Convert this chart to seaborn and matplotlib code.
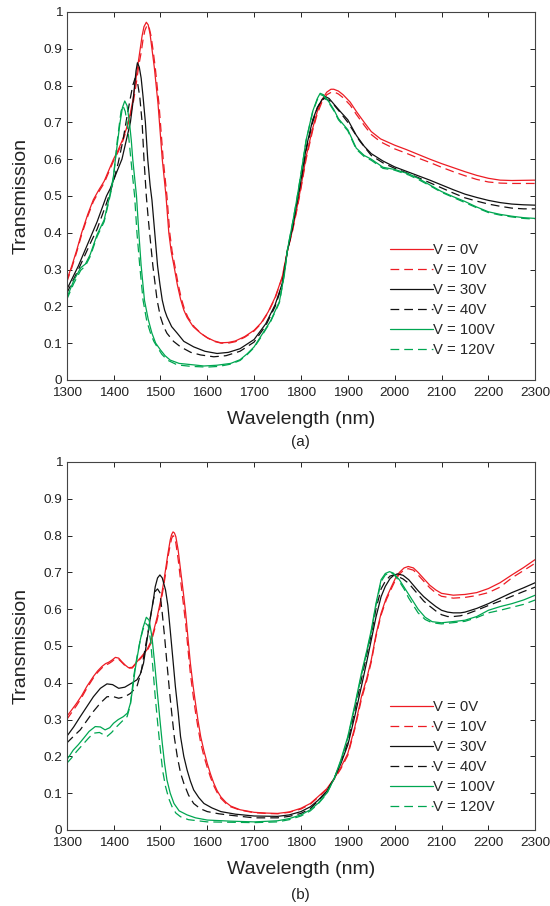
import pandas as pd
import matplotlib
matplotlib.use('Agg')
import matplotlib.pyplot as plt
import seaborn as sns

# ---- panel (a) ----
a_wl_0V = [1300, 1311, 1322, 1332, 1345, 1357, 1368, 1380, 1390, 1400, 1410, 1420, 1428, 1436, 1442, 1448, 1453,
           1457, 1461, 1465, 1470, 1474, 1478, 1482, 1487, 1491, 1495, 1498, 1504, 1512, 1518, 1523, 1529, 1536,
           1543, 1550, 1557, 1570, 1586, 1600, 1615, 1629, 1645, 1660, 1680, 1700, 1715, 1730, 1745, 1760, 1771,
           1782, 1791, 1800, 1811, 1825, 1835, 1845, 1855, 1864, 1870, 1880, 1890, 1905, 1918, 1935, 1950, 1970,
           2000, 2025, 2050, 2075, 2100, 2125, 2150, 2175, 2200, 2225, 2250, 2300]
a_T_0V = [0.27, 0.31, 0.355, 0.40, 0.45, 0.49, 0.515, 0.54, 0.57, 0.60, 0.625, 0.655, 0.685, 0.725, 0.765, 0.82,
          0.865, 0.90, 0.935, 0.96, 0.972, 0.965, 0.94, 0.90, 0.85, 0.80, 0.75, 0.70, 0.60, 0.50, 0.40, 0.35, 0.31,
          0.26, 0.22, 0.19, 0.17, 0.145, 0.127, 0.115, 0.106, 0.101, 0.102, 0.106, 0.118, 0.135, 0.155, 0.185,
          0.225, 0.28, 0.35, 0.408, 0.465, 0.525, 0.607, 0.684, 0.73, 0.762, 0.782, 0.79, 0.79, 0.785, 0.775,
          0.755, 0.73, 0.70, 0.675, 0.655, 0.638, 0.626, 0.613, 0.60, 0.588, 0.577, 0.566, 0.556, 0.548, 0.543,
          0.542, 0.543]

a_wl_10V = [1300, 1311, 1322, 1332, 1345, 1357, 1368, 1380, 1390, 1400, 1410, 1420, 1428, 1436, 1443, 1449, 1454,
            1459, 1463, 1467, 1472, 1476, 1480, 1484, 1489, 1493, 1497, 1500, 1506, 1514, 1520, 1525, 1531, 1538,
            1545, 1552, 1559, 1572, 1588, 1602, 1617, 1630, 1645, 1660, 1680, 1700, 1715, 1730, 1745, 1760, 1771,
            1782, 1791, 1800, 1811, 1825, 1835, 1845, 1855, 1865, 1872, 1880, 1890, 1905, 1918, 1935, 1950, 1970,
            2000, 2025, 2050, 2075, 2100, 2125, 2150, 2175, 2200, 2225, 2250, 2300]
a_T_10V = [0.265, 0.305, 0.35, 0.395, 0.445, 0.485, 0.51, 0.535, 0.565, 0.595, 0.62, 0.65, 0.68, 0.72, 0.76, 0.81,
           0.855, 0.89, 0.925, 0.95, 0.965, 0.958, 0.935, 0.90, 0.85, 0.80, 0.75, 0.70, 0.60, 0.50, 0.40, 0.35,
           0.31, 0.26, 0.22, 0.19, 0.17, 0.145, 0.125, 0.113, 0.104, 0.10, 0.10, 0.104, 0.116, 0.133, 0.153, 0.183,
           0.223, 0.278, 0.35, 0.405, 0.46, 0.52, 0.60, 0.678, 0.724, 0.756, 0.775, 0.782, 0.782, 0.777, 0.767,
           0.747, 0.722, 0.692, 0.667, 0.647, 0.628, 0.616, 0.603, 0.591, 0.578, 0.566, 0.555, 0.545, 0.538, 0.535,
           0.534, 0.534]

a_wl_30V = [1300, 1325, 1350, 1365, 1375, 1385, 1393, 1400, 1410, 1418, 1427, 1436, 1441, 1445, 1448, 1451, 1455,
            1459, 1463, 1468, 1473, 1478, 1482, 1488, 1494, 1499, 1504, 1509, 1514, 1524, 1536, 1550, 1571, 1595,
            1621, 1645, 1670, 1700, 1725, 1745, 1760, 1771, 1782, 1791, 1800, 1811, 1825, 1835, 1845, 1852, 1860,
            1870, 1885, 1900, 1918, 1935, 1950, 1975, 2000, 2025, 2050, 2075, 2100, 2125, 2150, 2175, 2200, 2225,
            2250, 2275, 2300]
a_T_30V = [0.245, 0.31, 0.385, 0.43, 0.465, 0.50, 0.52, 0.543, 0.575, 0.60, 0.65, 0.70, 0.75, 0.80, 0.84, 0.862,
           0.85, 0.82, 0.77, 0.70, 0.60, 0.53, 0.489, 0.40, 0.31, 0.26, 0.217, 0.19, 0.172, 0.145, 0.127, 0.105,
           0.09, 0.078, 0.072, 0.075, 0.085, 0.11, 0.153, 0.205, 0.262, 0.35, 0.415, 0.48, 0.543, 0.63, 0.707,
           0.74, 0.762, 0.77, 0.765, 0.75, 0.728, 0.707, 0.665, 0.635, 0.615, 0.595, 0.579, 0.567, 0.555, 0.543,
           0.53, 0.517, 0.505, 0.496, 0.488, 0.482, 0.478, 0.476, 0.475]

a_wl_40V = [1300, 1325, 1350, 1365, 1375, 1385, 1393, 1400, 1410, 1420, 1428, 1435, 1441, 1446, 1451, 1456, 1461,
            1465, 1470, 1474, 1477, 1484, 1493, 1500, 1507, 1514, 1528, 1543, 1565, 1586, 1614, 1640, 1670, 1700,
            1725, 1745, 1760, 1771, 1782, 1791, 1800, 1811, 1825, 1835, 1843, 1850, 1860, 1870, 1885, 1900, 1925,
            1950, 1975, 2000, 2025, 2050, 2075, 2100, 2125, 2150, 2175, 2200, 2225, 2250, 2275, 2300]
a_T_40V = [0.235, 0.30, 0.37, 0.41, 0.445, 0.48, 0.51, 0.54, 0.59, 0.65, 0.71, 0.76, 0.80, 0.82, 0.81, 0.77,
           0.70, 0.60, 0.50, 0.44, 0.40, 0.31, 0.217, 0.172, 0.145, 0.127, 0.105, 0.09, 0.075, 0.068, 0.063, 0.066,
           0.078, 0.103, 0.148, 0.20, 0.258, 0.35, 0.415, 0.48, 0.54, 0.625, 0.70, 0.74, 0.758, 0.765, 0.76, 0.748,
           0.725, 0.70, 0.65, 0.61, 0.59, 0.575, 0.563, 0.55, 0.536, 0.522, 0.508, 0.495, 0.486, 0.478, 0.472,
           0.467, 0.465, 0.465]

a_wl_100V = [1300, 1315, 1330, 1340, 1350, 1365, 1380, 1390, 1395, 1400, 1404, 1409, 1414, 1419, 1424, 1429, 1434,
             1438, 1441, 1445, 1449, 1454, 1459, 1466, 1474, 1482, 1490, 1500, 1510, 1521, 1540, 1571, 1593, 1620,
             1650, 1670, 1686, 1700, 1714, 1735, 1754, 1765, 1771, 1782, 1791, 1800, 1811, 1825, 1835, 1841, 1848,
             1860, 1870, 1880, 1890, 1900, 1918, 1935, 1950, 1975, 2000, 2030, 2050, 2075, 2100, 2125, 2150, 2175,
             2200, 2225, 2250, 2275, 2300]
a_T_100V = [0.222, 0.27, 0.305, 0.315, 0.34, 0.395, 0.435, 0.49, 0.52, 0.555, 0.60, 0.65, 0.70, 0.74, 0.758, 0.745,
            0.70, 0.65, 0.60, 0.55, 0.50, 0.40, 0.31, 0.217, 0.165, 0.127, 0.10, 0.082, 0.066, 0.054, 0.045, 0.041,
            0.038, 0.04, 0.045, 0.055, 0.072, 0.09, 0.118, 0.16, 0.213, 0.29, 0.353, 0.426, 0.49, 0.56, 0.652,
            0.73, 0.765, 0.779, 0.775, 0.755, 0.735, 0.71, 0.695, 0.68, 0.63, 0.61, 0.60, 0.578, 0.572, 0.56,
            0.548, 0.53, 0.512, 0.498, 0.485, 0.47, 0.457, 0.45, 0.445, 0.441, 0.439]

a_wl_120V = [1300, 1315, 1330, 1340, 1350, 1365, 1380, 1390, 1396, 1400, 1404, 1408, 1412, 1416, 1420, 1425, 1430,
             1434, 1437, 1441, 1445, 1450, 1456, 1463, 1471, 1479, 1486, 1493, 1503, 1515, 1536, 1565, 1600, 1625,
             1650, 1670, 1686, 1700, 1714, 1735, 1754, 1765, 1771, 1782, 1791, 1800, 1811, 1825, 1835, 1841, 1848,
             1860, 1870, 1880, 1890, 1900, 1918, 1935, 1950, 1975, 2000, 2030, 2050, 2075, 2100, 2125, 2150, 2175,
             2200, 2225, 2250, 2275, 2300]
a_T_120V = [0.218, 0.262, 0.298, 0.31, 0.335, 0.39, 0.43, 0.485, 0.52, 0.55, 0.60, 0.65, 0.69, 0.73, 0.745, 0.73,
            0.69, 0.64, 0.60, 0.55, 0.50, 0.40, 0.31, 0.217, 0.16, 0.127, 0.105, 0.09, 0.07, 0.054, 0.041, 0.037,
            0.035, 0.037, 0.043, 0.053, 0.07, 0.088, 0.115, 0.158, 0.21, 0.29, 0.353, 0.426, 0.49, 0.56, 0.65,
            0.728, 0.762, 0.776, 0.772, 0.752, 0.732, 0.707, 0.692, 0.677, 0.627, 0.607, 0.597, 0.575, 0.57, 0.557,
            0.545, 0.528, 0.51, 0.496, 0.482, 0.468, 0.455, 0.448, 0.443, 0.439, 0.437]

# ---- panel (b) ----
b_wl_0V = [1300, 1310, 1321, 1332, 1343, 1357, 1366, 1375, 1383, 1390, 1397, 1404, 1411, 1418, 1425, 1432, 1440,
           1450, 1460, 1471, 1479, 1486, 1493, 1500, 1506, 1511, 1516, 1521, 1524, 1527, 1530, 1533, 1538, 1543,
           1549, 1554, 1559, 1564, 1570, 1575, 1580, 1586, 1593, 1600, 1607, 1614, 1621, 1629, 1640, 1650, 1670,
           1700, 1725, 1750, 1775, 1800, 1820, 1836, 1855, 1871, 1885, 1900, 1915, 1929, 1940, 1950, 1960, 1971,
           1982, 1993, 2002, 2010, 2020, 2029, 2040, 2050, 2062, 2075, 2088, 2100, 2125, 2150, 2175, 2200, 2225,
           2250, 2275, 2300]
b_T_0V = [0.308, 0.325, 0.344, 0.365, 0.39, 0.417, 0.432, 0.444, 0.452, 0.456, 0.462, 0.469, 0.467, 0.457, 0.448,
          0.441, 0.442, 0.457, 0.472, 0.489, 0.51, 0.543, 0.578, 0.62, 0.665, 0.707, 0.75, 0.788, 0.803, 0.81,
          0.807, 0.797, 0.76, 0.707, 0.645, 0.589, 0.52, 0.453, 0.39, 0.344, 0.30, 0.254, 0.215, 0.181, 0.152,
          0.127, 0.107, 0.09, 0.075, 0.065, 0.055, 0.048, 0.046, 0.045, 0.049, 0.059, 0.072, 0.09, 0.112, 0.14,
          0.17, 0.208, 0.28, 0.362, 0.41, 0.462, 0.53, 0.589, 0.63, 0.661, 0.685, 0.70, 0.712, 0.716, 0.712, 0.70,
          0.683, 0.665, 0.652, 0.643, 0.638, 0.64, 0.645, 0.656, 0.672, 0.693, 0.713, 0.735]

b_wl_10V = b_wl_0V
b_T_10V = [0.30, 0.318, 0.338, 0.36, 0.385, 0.413, 0.428, 0.44, 0.448, 0.452, 0.458, 0.466, 0.464, 0.455, 0.446,
           0.44, 0.44, 0.455, 0.469, 0.485, 0.505, 0.537, 0.57, 0.61, 0.655, 0.695, 0.74, 0.775, 0.792, 0.80,
           0.795, 0.78, 0.735, 0.68, 0.615, 0.56, 0.49, 0.425, 0.365, 0.32, 0.28, 0.237, 0.20, 0.17, 0.143, 0.12,
           0.102, 0.086, 0.072, 0.063, 0.054, 0.047, 0.045, 0.044, 0.048, 0.057, 0.07, 0.088, 0.11, 0.138, 0.166,
           0.203, 0.275, 0.355, 0.404, 0.456, 0.525, 0.584, 0.625, 0.656, 0.68, 0.695, 0.707, 0.71, 0.706, 0.693,
           0.676, 0.658, 0.644, 0.635, 0.63, 0.632, 0.637, 0.645, 0.66, 0.685, 0.705, 0.725]

b_wl_30V = [1300, 1315, 1329, 1343, 1357, 1372, 1386, 1398, 1411, 1424, 1436, 1450, 1457, 1464, 1472, 1479, 1485,
            1489, 1494, 1499, 1504, 1511, 1516, 1521, 1527, 1532, 1538, 1543, 1550, 1557, 1564, 1571, 1582, 1593,
            1610, 1629, 1660, 1700, 1750, 1775, 1800, 1820, 1836, 1855, 1871, 1885, 1900, 1915, 1929, 1940, 1950,
            1960, 1971, 1980, 1990, 1998, 2006, 2018, 2030, 2040, 2050, 2062, 2075, 2088, 2100, 2113, 2125, 2140,
            2150, 2175, 2200, 2225, 2250, 2275, 2300]
b_T_30V = [0.254, 0.28, 0.308, 0.335, 0.362, 0.385, 0.397, 0.395, 0.385, 0.388, 0.397, 0.408, 0.423, 0.453, 0.52,
           0.58, 0.625, 0.661, 0.685, 0.693, 0.685, 0.652, 0.61, 0.543, 0.46, 0.39, 0.32, 0.254, 0.20, 0.163, 0.133,
           0.109, 0.088, 0.072, 0.06, 0.05, 0.043, 0.038, 0.037, 0.041, 0.05, 0.063, 0.08, 0.105, 0.14, 0.18, 0.231,
           0.31, 0.39, 0.455, 0.516, 0.578, 0.634, 0.662, 0.683, 0.692, 0.696, 0.692, 0.68, 0.665, 0.65, 0.634,
           0.62, 0.607, 0.597, 0.592, 0.59, 0.59, 0.592, 0.602, 0.615, 0.63, 0.645, 0.658, 0.672]

b_wl_40V = [1300, 1315, 1329, 1343, 1357, 1372, 1386, 1398, 1411, 1424, 1436, 1450, 1459, 1468, 1474, 1479, 1485,
            1490, 1494, 1499, 1504, 1509, 1514, 1520, 1525, 1530, 1536, 1543, 1550, 1560, 1571, 1585, 1600, 1625,
            1650, 1700, 1750, 1775, 1800, 1820, 1836, 1855, 1871, 1885, 1900, 1915, 1929, 1940, 1950, 1960, 1971,
            1980, 1990, 1998, 2005, 2018, 2030, 2040, 2050, 2062, 2075, 2088, 2100, 2113, 2125, 2140, 2150, 2175,
            2200, 2225, 2250, 2275, 2300]
b_T_40V = [0.236, 0.255, 0.272, 0.297, 0.322, 0.345, 0.362, 0.363, 0.358, 0.362, 0.371, 0.39, 0.43, 0.498, 0.54,
           0.58, 0.625, 0.65, 0.655, 0.645, 0.589, 0.525, 0.453, 0.37, 0.308, 0.25, 0.20, 0.155, 0.127, 0.095,
           0.072, 0.058, 0.05, 0.044, 0.04, 0.033, 0.033, 0.037, 0.045, 0.058, 0.078, 0.105, 0.14, 0.185, 0.24,
           0.325, 0.41, 0.475, 0.53, 0.60, 0.655, 0.676, 0.69, 0.693, 0.69, 0.682, 0.67, 0.655, 0.64, 0.622, 0.608,
           0.595, 0.585, 0.58, 0.58, 0.582, 0.585, 0.597, 0.61, 0.622, 0.635, 0.648, 0.66]

b_wl_100V = [1300, 1314, 1325, 1336, 1348, 1361, 1372, 1382, 1392, 1400, 1410, 1421, 1430, 1436, 1441, 1446, 1452,
             1457, 1463, 1470, 1476, 1482, 1488, 1493, 1499, 1504, 1509, 1514, 1521, 1529, 1540, 1557, 1575, 1600,
             1650, 1700, 1750, 1775, 1800, 1820, 1836, 1855, 1871, 1885, 1900, 1915, 1929, 1940, 1950, 1960, 1971,
             1980, 1989, 1997, 2010, 2020, 2030, 2040, 2050, 2065, 2080, 2100, 2115, 2130, 2150, 2175, 2200, 2225,
             2250, 2275, 2300]
b_T_100V = [0.19, 0.217, 0.232, 0.249, 0.268, 0.281, 0.28, 0.272, 0.278, 0.29, 0.30, 0.308, 0.318, 0.344, 0.385,
            0.435, 0.48, 0.516, 0.55, 0.578, 0.57, 0.525, 0.45, 0.38, 0.30, 0.236, 0.18, 0.136, 0.10, 0.072, 0.052,
            0.041, 0.033, 0.027, 0.024, 0.022, 0.025, 0.031, 0.041, 0.055, 0.072, 0.10, 0.14, 0.19, 0.254, 0.34,
            0.426, 0.485, 0.543, 0.615, 0.68, 0.697, 0.702, 0.698, 0.68, 0.66, 0.64, 0.62, 0.60, 0.578, 0.566,
            0.563, 0.565, 0.567, 0.57, 0.58, 0.597, 0.607, 0.615, 0.625, 0.638]

b_wl_120V = [1300, 1310, 1321, 1335, 1347, 1357, 1370, 1386, 1396, 1407, 1418, 1429, 1436, 1443, 1450, 1457, 1463,
             1468, 1474, 1479, 1484, 1489, 1495, 1500, 1505, 1511, 1518, 1525, 1533, 1543, 1560, 1600, 1650, 1700,
             1750, 1775, 1800, 1820, 1836, 1855, 1871, 1885, 1900, 1915, 1929, 1940, 1950, 1960, 1971, 1980, 1990,
             1998, 2010, 2020, 2030, 2040, 2050, 2065, 2080, 2100, 2115, 2130, 2150, 2175, 2200, 2225, 2250, 2275,
             2300]
b_T_120V = [0.181, 0.195, 0.213, 0.233, 0.25, 0.263, 0.265, 0.254, 0.265, 0.281, 0.295, 0.308, 0.34, 0.417, 0.47,
            0.516, 0.545, 0.562, 0.555, 0.516, 0.44, 0.362, 0.28, 0.217, 0.16, 0.118, 0.085, 0.063, 0.046, 0.036,
            0.028, 0.022, 0.021, 0.02, 0.022, 0.028, 0.038, 0.052, 0.07, 0.098, 0.14, 0.186, 0.25, 0.335, 0.42,
            0.48, 0.538, 0.61, 0.675, 0.693, 0.70, 0.695, 0.675, 0.655, 0.63, 0.61, 0.59, 0.572, 0.563, 0.56, 0.562,
            0.564, 0.567, 0.577, 0.59, 0.597, 0.605, 0.613, 0.625]

labels = ['V = 0V', 'V = 10V', 'V = 30V', 'V = 40V', 'V = 100V', 'V = 120V']
colors = ['#ed1c24', '#ed1c24', '#111111', '#111111', '#00a651', '#00a651']
dash_styles = ['', (7, 4), '', (7, 4), '', (7, 4)]


def to_frame(series):
    parts = []
    for lab, (wl, T) in zip(labels, series):
        parts.append(pd.DataFrame({'Wavelength': wl, 'Transmission': T, 'V': lab}))
    return pd.concat(parts, ignore_index=True)


df_a = to_frame([(a_wl_0V, a_T_0V), (a_wl_10V, a_T_10V), (a_wl_30V, a_T_30V),
                 (a_wl_40V, a_T_40V), (a_wl_100V, a_T_100V), (a_wl_120V, a_T_120V)])
df_b = to_frame([(b_wl_0V, b_T_0V), (b_wl_10V, b_T_10V), (b_wl_30V, b_T_30V),
                 (b_wl_40V, b_T_40V), (b_wl_100V, b_T_100V), (b_wl_120V, b_T_120V)])

sns.set_style('ticks')
plt.rcParams['font.family'] = ['Liberation Sans', 'DejaVu Sans']
plt.rcParams['xtick.direction'] = 'in'
plt.rcParams['ytick.direction'] = 'in'

fig = plt.figure(figsize=(5.5, 9.06), dpi=100)
ax_a = fig.add_axes([0.1212, 0.5806, 0.852, 0.4062])
ax_b = fig.add_axes([0.1212, 0.0839, 0.852, 0.4062])

palette = dict(zip(labels, colors))
dashes = dict(zip(labels, dash_styles))

for ax, df, tag, tag_y, leg_y in [(ax_a, df_a, '(a)', 0.512, 0.372), (ax_b, df_b, '(b)', 0.0121, 0.352)]:
    sns.lineplot(data=df, x='Wavelength', y='Transmission', hue='V', style='V',
                 palette=palette, dashes=dashes, hue_order=labels, style_order=labels,
                 estimator=None, sort=False, linewidth=0.9, ax=ax)
    ax.set_xlim(1300, 2300)
    ax.set_ylim(0, 1)
    ax.set_xticks(range(1300, 2301, 100))
    ax.set_yticks([i / 10 for i in range(11)])
    ax.set_yticklabels(['0'] + ['0.%d' % i for i in range(1, 10)] + ['1'])
    ax.tick_params(axis='both', which='major', direction='in', length=3.5, width=0.7,
                   top=True, right=True, labelsize=9.7, colors='#222222')
    ax.tick_params(axis='x', pad=5)
    ax.tick_params(axis='y', pad=3)
    for sp in ax.spines.values():
        sp.set_visible(True)
        sp.set_linewidth(0.8)
        sp.set_color('#444444')
    ax.set_xlabel('Wavelength (nm)', fontsize=14, labelpad=8.5, color='#222222')
    ax.set_ylabel('Transmission', fontsize=14, labelpad=10, color='#222222')

    old = ax.get_legend()
    handles = old.legend_handles
    texts = [t.get_text() for t in old.texts]
    old.remove()
    ax.legend(handles, texts, loc='upper left', bbox_to_anchor=(0.69, leg_y), frameon=False,
              handlelength=2.9, handletextpad=0.0, labelspacing=0.4, borderpad=0, borderaxespad=0,
              fontsize=10.7)
    fig.text(0.547, tag_y, tag, ha='center', va='center', fontsize=11, color='#222222')

fig.savefig('out.png', dpi=100)
